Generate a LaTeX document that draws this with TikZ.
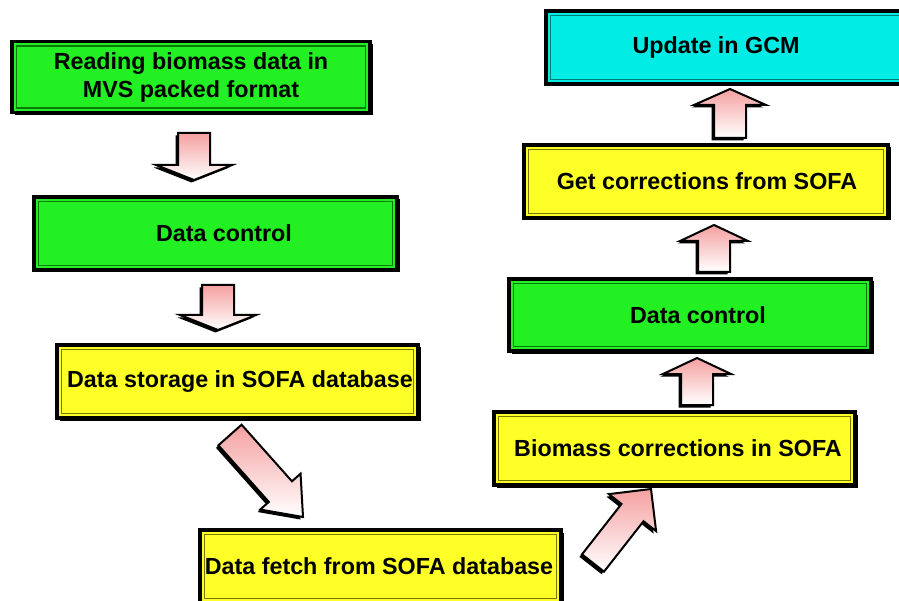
\documentclass[tikz,border=0pt]{standalone}
\usepackage{fontspec}
\setmainfont{Liberation Sans}
\usetikzlibrary{calc,shadows}
\definecolor{bgreen}{RGB}{34,240,34}
\definecolor{bgreenD}{RGB}{10,120,10}
\definecolor{byellow}{RGB}{255,255,40}
\definecolor{byellowD}{RGB}{120,120,0}
\definecolor{bcyan}{RGB}{0,236,228}
\definecolor{bcyanD}{RGB}{0,120,120}
\definecolor{apink}{RGB}{245,160,160}
\newcommand\blockarr[6]{%
  \coordinate (#6h) at ($(#2)!#5!(#1)$);
  \fill[arrsh] ($(#1)!#3!90:(#2)$) -- ($(#6h)!#3!90:(#2)$) -- ($(#6h)!#4!90:(#2)$) -- (#2)
     -- ($(#6h)!#4!-90:(#2)$) -- ($(#6h)!#3!-90:(#2)$) -- ($(#1)!#3!-90:(#2)$) -- cycle;
  \path[arr] ($(#1)!#3!90:(#2)$) -- ($(#6h)!#3!90:(#2)$) -- ($(#6h)!#4!90:(#2)$) -- (#2)
     -- ($(#6h)!#4!-90:(#2)$) -- ($(#6h)!#3!-90:(#2)$) -- ($(#1)!#3!-90:(#2)$) -- cycle;
}
\begin{document}
\begin{tikzpicture}[x=1pt,y=-1pt,
  box/.style={rectangle, draw=black, line width=3.5pt, inner sep=0pt,
    font=\bfseries\fontsize{23.3}{28}\selectfont, align=center,
    drop shadow={shadow xshift=2.5pt, shadow yshift=-2.5pt, opacity=1, fill=black}},
  inl/.style={path picture={\draw[#1, line width=1.2pt]
    ([shift={(4.5pt,-4.5pt)}]path picture bounding box.north west) rectangle
    ([shift={(-4.5pt,4.5pt)}]path picture bounding box.south east);}},
  gbox/.style={box, fill=bgreen, inl=bgreenD},
  ybox/.style={box, fill=byellow, inl=byellowD},
  cbox/.style={box, fill=bcyan, inl=bcyanD},
  tsh/.style={execute at begin node={\hspace*{#1}}},
  arr/.style={draw=black, line width=2pt, line join=miter, top color=apink, bottom color=white},
  arrsh/.style={fill=black, transform canvas={shift={(-2.5pt,-2.5pt)}}},
]
\useasboundingbox[fill=white] (0,0) rectangle (899,601);

\node[gbox, minimum width=358pt, minimum height=71pt] (b1) at (191,77)
  {Reading biomass data in\\MVS packed format};
\node[gbox, minimum width=363pt, minimum height=73pt, tsh=17pt] (b2) at (215.5,233.5) {Data control};
\node[ybox, minimum width=361pt, minimum height=73pt, tsh=5pt] (b3) at (237.5,381.5) {Data storage in SOFA database};
\node[ybox, minimum width=361pt, minimum height=73pt, tsh=-3pt] (b4) at (380.5,566.5) {Data fetch from SOFA database};
\node[ybox, minimum width=361pt, minimum height=73pt, tsh=7pt] (b5) at (674.5,448.5) {Biomass corrections in SOFA};
\node[gbox, minimum width=362pt, minimum height=72pt, tsh=16pt] (b6) at (690,315) {Data control};
\node[ybox, minimum width=364pt, minimum height=73pt, tsh=2pt] (b7) at (706,181.5) {Get corrections from SOFA};
\node[cbox, minimum width=361pt, minimum height=73pt, tsh=-21pt] (b8) at (726.5,47.5) {Update in GCM};

\coordinate (a1t) at (194,133);  \coordinate (a1p) at (194,180);
\coordinate (a2t) at (218,285);  \coordinate (a2p) at (218,330);
\coordinate (a3t) at (230,435);  \coordinate (a3p) at (303,517);
\coordinate (a4t) at (593,563);  \coordinate (a4p) at (651,489);
\coordinate (a5t) at (697,405);  \coordinate (a5p) at (697,358);
\coordinate (a6t) at (714,272);  \coordinate (a6p) at (714,225);
\coordinate (a7t) at (730,138);  \coordinate (a7p) at (730,89);

\blockarr{a1t}{a1p}{16pt}{38pt}{15pt}{a1}
\blockarr{a2t}{a2p}{16pt}{38pt}{15pt}{a2}
\blockarr{a3t}{a3p}{15.5pt}{27pt}{34pt}{a3}
\blockarr{a4t}{a4p}{14pt}{30pt}{30pt}{a4}
\blockarr{a5t}{a5p}{16pt}{34pt}{16pt}{a5}
\blockarr{a6t}{a6p}{16pt}{34pt}{16pt}{a6}
\blockarr{a7t}{a7p}{16pt}{36pt}{16pt}{a7}
\end{tikzpicture}
\end{document}
